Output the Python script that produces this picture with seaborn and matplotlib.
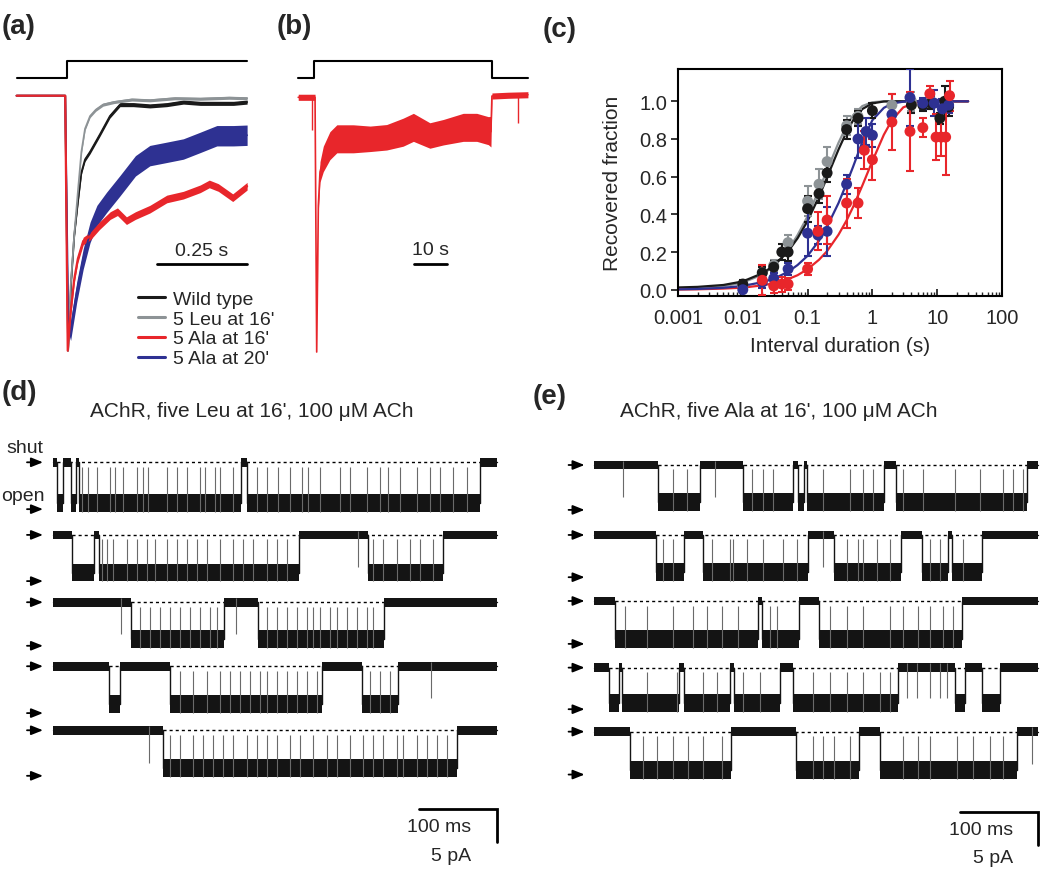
import numpy as np
import pandas as pd
import matplotlib
matplotlib.use("Agg")
import matplotlib.pyplot as plt
import seaborn as sns
from matplotlib.ticker import FixedLocator, FixedFormatter, FormatStrFormatter, LogLocator, NullFormatter

# ------------------------------------------------------------------ data
# (a) normalised macroscopic currents, time in s
a_black_t = [-0.14, -0.005, 0.003, 0.012, 0.02, 0.03, 0.04, 0.05, 0.064, 0.08, 0.092, 0.119, 0.147, 0.184, 0.23, 0.277, 0.323, 0.37, 0.416, 0.462, 0.5]
a_black_v = [0, 0, -1.0, -0.72, -0.55, -0.42, -0.3, -0.25, -0.22, -0.18, -0.15, -0.08, -0.035, -0.035, -0.04, -0.035, -0.025, -0.03, -0.03, -0.03, -0.025]
a_gray_t = [-0.14, -0.005, 0.003, 0.01, 0.02, 0.03, 0.04, 0.05, 0.064, 0.08, 0.1, 0.13, 0.18, 0.23, 0.3, 0.37, 0.45, 0.5]
a_gray_v = [0, 0, -1.0, -0.75, -0.55, -0.38, -0.22, -0.13, -0.08, -0.055, -0.035, -0.025, -0.015, -0.018, -0.01, -0.012, -0.008, -0.01]
a_red_t = [-0.14, -0.005, 0.002, 0.01, 0.02, 0.03, 0.045, 0.065, 0.09, 0.12, 0.14, 0.165, 0.19, 0.23, 0.277, 0.323, 0.37, 0.395, 0.42, 0.46, 0.5]
a_red_v = [0, 0, -1.0, -0.85, -0.72, -0.64, -0.57, -0.55, -0.51, -0.47, -0.455, -0.49, -0.47, -0.445, -0.405, -0.39, -0.365, -0.346, -0.36, -0.40, -0.355]
a_blue_t = [-0.14, -0.005, 0.004, 0.01, 0.027, 0.045, 0.064, 0.083, 0.11, 0.147, 0.19, 0.23, 0.277, 0.323, 0.37, 0.416, 0.462, 0.5]
a_blue_v = [0, 0, -0.93, -0.92, -0.77, -0.64, -0.536, -0.47, -0.418, -0.353, -0.275, -0.235, -0.222, -0.209, -0.183, -0.157, -0.157, -0.155]
a_noise = {"black": 0.008, "gray": 0.006, "red": 0.015, "blue": 0.04}
a_labels = ["Wild type", "5 Leu at 16'", "5 Ala at 16'", "5 Ala at 20'"]
a_stim_t = [-0.14, 0.0, 0.0, 0.5]
a_stim_v = [0, 0, 1, 1]

# (b) long application, time in s
b_t = [-5.6, -3.0, -1.3, -0.5, 0.0, 0.5, 1.0, 2.0, 4.0, 6.1, 11.1, 16.2, 21.2, 26.2, 29.3, 34.3, 38.4, 44.4, 48.5, 52.0, 52.8, 53.1, 58.0, 64.0]
b_v = [0, 0, 0, 0, -1.0, -0.425, -0.293, -0.242, -0.19, -0.163, -0.163, -0.163, -0.157, -0.137, -0.118, -0.15, -0.137, -0.118, -0.118, -0.131, -0.135, 0.005, 0.008, 0.01]
b_noise = [0.012, 0.012, 0.012, 0.012, 0, 0.02, 0.04, 0.05, 0.055, 0.055, 0.055, 0.05, 0.05, 0.055, 0.055, 0.05, 0.05, 0.055, 0.055, 0.055, 0.06, 0.012, 0.012, 0.012]
b_spike_t = [-1.3, 61.1]
b_spike_v = [-0.13, -0.1]
b_stim_t = [-5.6, -0.7, -0.7, 53.0, 53.0, 64.0]
b_stim_v = [0, 0, 1, 1, 0, 0]

# (c) recovery from desensitisation
c_x_ticks = [0.001, 0.01, 0.1, 1, 10, 100]
c_x_ticklabels = ["0.001", "0.01", "0.1", "1", "10", "100"]
c_y_ticks = [0.0, 0.2, 0.4, 0.6, 0.8, 1.0]
wt_x = [0.01, 0.02, 0.03, 0.04, 0.05, 0.1, 0.15, 0.2, 0.4, 0.6, 1.0, 4.0, 6.0, 8.0, 11.0, 13.0, 15.0]
wt_y = [0.03, 0.09, 0.12, 0.20, 0.20, 0.43, 0.51, 0.62, 0.85, 0.91, 0.95, 0.98, 0.98, 0.99, 0.91, 1.00, 0.97]
wt_e = [0.02, 0.03, 0.03, 0.04, 0.05, 0.07, 0.05, 0.05, 0.05, 0.04, 0.04, 0.04, 0.03, 0.03, 0.03, 0.08, 0.05]
leu_x = [0.01, 0.02, 0.03, 0.05, 0.1, 0.15, 0.2, 0.4, 0.6, 2.0, 4.0, 8.0, 15.0]
leu_y = [0.02, 0.09, 0.13, 0.25, 0.47, 0.56, 0.68, 0.87, 0.92, 0.98, 1.00, 1.00, 0.98]
leu_e = [0.02, 0.03, 0.03, 0.04, 0.08, 0.08, 0.08, 0.05, 0.04, 0.06, 0.05, 0.04, 0.04]
ala20_x = [0.01, 0.02, 0.03, 0.05, 0.1, 0.145, 0.2, 0.4, 0.6, 0.8, 1.0, 2.0, 3.8, 6.0, 9.0, 12.0, 15.0]
ala20_y = [0.0, 0.04, 0.06, 0.11, 0.30, 0.29, 0.31, 0.56, 0.80, 0.84, 0.82, 0.93, 1.02, 0.99, 0.99, 0.96, 0.98]
ala20_e = [0.01, 0.03, 0.03, 0.03, 0.12, 0.05, 0.13, 0.05, 0.10, 0.07, 0.06, 0.04, 0.15, 0.03, 0.07, 0.05, 0.04]
ala16_x = [0.02, 0.03, 0.04, 0.05, 0.1, 0.145, 0.2, 0.4, 0.6, 0.75, 1.0, 2.0, 3.8, 6.0, 7.7, 9.6, 11.5, 13.5, 15.5]
ala16_y = [0.05, 0.02, 0.03, 0.03, 0.11, 0.31, 0.37, 0.46, 0.46, 0.74, 0.69, 0.89, 0.84, 0.86, 1.04, 0.81, 0.81, 0.81, 1.03]
ala16_e = [0.08, 0.04, 0.04, 0.03, 0.03, 0.10, 0.13, 0.13, 0.08, 0.10, 0.11, 0.15, 0.21, 0.05, 0.04, 0.12, 0.10, 0.20, 0.08]
fit_x = [0.001, 0.002, 0.005, 0.01, 0.02, 0.03, 0.05, 0.07, 0.1, 0.15, 0.2, 0.3, 0.4, 0.5, 0.7, 1, 1.5, 2, 3, 5, 10, 30]
fit_wt = [0.012, 0.015, 0.025, 0.044, 0.087, 0.127, 0.203, 0.273, 0.365, 0.494, 0.597, 0.744, 0.838, 0.897, 0.959, 0.989, 0.999, 1.0, 1.0, 1.0, 1.0, 1.0]
fit_leu = [0.004, 0.007, 0.018, 0.038, 0.08, 0.125, 0.21, 0.29, 0.39, 0.53, 0.635, 0.78, 0.87, 0.925, 0.975, 0.995, 1.0, 1.0, 1.0, 1.0, 1.0, 1.0]
fit_ala20 = [0.002, 0.004, 0.01, 0.02, 0.04, 0.058, 0.095, 0.131, 0.18, 0.26, 0.335, 0.46, 0.565, 0.65, 0.785, 0.9, 0.965, 0.988, 0.998, 1.0, 1.0, 1.0]
fit_ala16 = [0.001, 0.002, 0.006, 0.011, 0.023, 0.034, 0.056, 0.077, 0.109, 0.159, 0.205, 0.292, 0.368, 0.437, 0.553, 0.683, 0.822, 0.9, 0.968, 0.997, 1.0, 1.0]

# (d) single-channel record, five Leu at 16' (times in ms, currents in pA)
d_offset = [0, -11.0, -21.2, -30.9, -40.6]
d_amp = [6.2, 5.7, 5.6, 5.7, 5.75]
d_arrow = [7.1, 7.0, 6.6, 7.1, 6.9]
d_bounds = [
    [0, 6, 13.6, 23.0, 29.9, 33.3, 241.0, 248.7, 547.9, 569.3],
    [0, 24.3, 53.0, 59.4, 315.8, 403.9, 500.9, 569.3],
    [0, 100.0, 219.7, 262.8, 424.8, 569.3],
    [0, 72.6, 86.3, 150.4, 344.9, 397.0, 443.2, 569.3],
    [0, 141.9, 518.0, 569.3],
]
d_flick = [
    [37.2, 45.7, 56.4, 73.5, 79.9, 90.6, 107.7, 116.2, 122.6, 146.1, 158.9, 171.8, 188.9, 195.3, 208.1, 214.5, 231.6, 261.5, 274.4, 289.3, 304.3, 319.3, 327.8, 342.7, 368.4, 381.2, 402.6, 419.7, 430.4, 445.3, 466.7, 483.8, 496.6, 513.7, 530.8],
    [62.8, 69.2, 77.8, 94.9, 107.7, 120.5, 131.2, 146.1, 158.9, 171.8, 184.6, 197.4, 214.5, 231.6, 244.4, 257.3, 274.4, 287.2, 300.0, 411.1, 423.9, 441.0, 458.1, 470.9, 488.0],
    [111.9, 124.8, 137.6, 150.4, 163.2, 176.0, 188.9, 201.7, 210.2, 274.4, 287.2, 300.0, 312.8, 325.6, 334.2, 342.7, 355.6, 364.1, 376.9, 389.8, 402.6, 411.1],
    [163.2, 180.3, 197.4, 214.5, 227.3, 240.2, 253.0, 265.8, 274.4, 287.2, 300.0, 312.8, 325.6, 338.5, 406.9, 419.7, 432.5],
    [150.4, 163.2, 180.3, 193.2, 206.0, 218.8, 231.6, 248.7, 261.5, 274.4, 287.2, 304.3, 317.1, 334.2, 351.3, 364.1, 381.2, 398.3, 411.1, 423.9, 441.0, 449.6, 466.7, 479.5, 492.3, 505.2],
]
d_brief = [[], [391.9], [87.6, 235.0], [484.6], [123.5]]

# (e) single-channel record, five Ala at 16'
e_offset = [0, -10.6, -20.6, -30.7, -40.4]
e_amp = [5.65, 5.65, 5.8, 5.4, 5.8]
e_arrow = [6.8, 6.4, 6.5, 6.3, 6.5]
e_bounds = [
    [0, 81.3, 135.5, 191.1, 255.2, 260.8, 268.9, 272.3, 371.5, 386.8, 555.2, 569.3],
    [0, 79.1, 115.0, 139.0, 274.4, 307.3, 393.3, 419.8, 453.9, 458.2, 496.7, 569.3],
    [0, 26.5, 210.3, 214.6, 262.9, 288.5, 471.0, 569.3],
    [0, 18.9, 32.1, 35.1, 108.6, 115.0, 174.0, 179.1, 238.1, 255.2, 389.8, 462.5, 475.3, 496.7, 520.2, 569.3],
    [0, 45.8, 174.9, 258.2, 339.8, 366.3, 542.4, 569.3],
]
e_flick = [
    [101.3, 118.4, 201.8, 216.7, 229.6, 293.7, 327.9, 345.0, 357.8, 396.2, 421.9, 462.5, 494.6, 524.5, 537.3, 550.1],
    [88.5, 101.3, 150.5, 174.0, 178.3, 195.4, 216.7, 242.4, 259.5, 323.6, 338.5, 345.0, 362.1, 379.2, 430.4, 443.3, 473.2],
    [39.4, 67.2, 101.3, 127.0, 144.1, 163.3, 184.7, 225.3, 233.8, 302.2, 323.6, 345.0, 379.2, 396.2, 415.5, 430.4, 447.5, 460.4],
    [67.2, 105.6, 139.8, 156.9, 191.1, 212.5, 280.8, 302.2, 323.6, 345.0, 366.3, 379.2],
    [62.9, 80.0, 101.3, 120.6, 139.8, 163.3, 280.8, 293.7, 307.3, 327.9, 396.2, 415.5, 430.4, 464.6, 486.0, 507.4, 524.5],
]
e_brief = [[37.2, 154.8], [293.7], [], [400.5, 413.4, 430.4, 443.3, 451.9], [560.8]]

SCALE_A_S = 0.25
SCALE_B_S = 10
SCALE_T_MS = 100
SCALE_I_PA = 5

# ------------------------------------------------------------------ style
sns.set_theme(style="white")
plt.rcParams["font.family"] = ["Liberation Sans", "DejaVu Sans"]
plt.rcParams["axes.edgecolor"] = "black"

BLACK = "#1a1a1a"
GRAY = "#8d9396"
RED = "#e8262b"
BLUE = "#2e3192"
TRACE = "#141414"
FLICK = "#6a6a6a"

W, H = 1050, 870
fig = plt.figure(figsize=(W / 100, H / 100), dpi=100)


def ax_px(x0, y0, x1, y1):
    return fig.add_axes([x0 / W, 1 - y1 / H, (x1 - x0) / W, (y1 - y0) / H])


def blank(ax):
    ax.set_axis_off()


# ------------------------------------------------------------------ (a)
ax_as = ax_px(15, 55, 250, 85)
ax_a = ax_px(15, 85, 250, 362)
for a in (ax_as, ax_a):
    a.set_xlim(-0.1444, 0.508)
    blank(a)
ax_as.set_ylim(-0.371, 1.394)
ax_a.set_ylim(-1.0404, 0.0459)
ax_as.plot(a_stim_t, a_stim_v, color="black", lw=1.5)

handles = {}
for key, t, v, col, lw in [("black", a_black_t, a_black_v, BLACK, 1.3),
                           ("gray", a_gray_t, a_gray_v, GRAY, 1.3),
                           ("blue", a_blue_t, a_blue_v, BLUE, 1.3),
                           ("red", a_red_t, a_red_v, RED, 1.6)]:
    t = np.asarray(t)
    v = np.asarray(v)
    hw = np.where(t >= 0.01, a_noise[key], 0.0)
    ax_a.fill_between(t, v - hw, v + hw, color=col, lw=0)
    sns.lineplot(x=t, y=v, color=col, lw=lw, ax=ax_a, estimator=None, sort=False)
    handles[key] = ax_a.lines[-1]

t_end = a_black_t[-1]
ax_a.plot([t_end - SCALE_A_S, t_end], [-0.66, -0.66], color="black", lw=2)
ax_a.text(t_end - SCALE_A_S / 2, -0.607, f"{SCALE_A_S} s", ha="center", va="center", fontsize=14)
leg = ax_a.legend([handles["black"], handles["gray"], handles["red"], handles["blue"]], a_labels,
                  loc="upper left", bbox_to_anchor=(138 / W, 1 - 291 / H), bbox_transform=fig.transFigure,
                  frameon=False, fontsize=14, handlelength=1.4, handletextpad=0.4,
                  labelspacing=0.12, borderpad=0, borderaxespad=0)
for line in leg.get_lines():
    line.set_linewidth(2.2)

# ------------------------------------------------------------------ (b)
ax_bs = ax_px(290, 55, 535, 85)
ax_b = ax_px(290, 85, 535, 362)
for a in (ax_bs, ax_b):
    a.set_xlim(-8.09, 66.15)
    blank(a)
ax_bs.set_ylim(-0.371, 1.394)
ax_b.set_ylim(-1.0353, 0.0522)
ax_bs.plot(b_stim_t, b_stim_v, color="black", lw=1.5)
bt = np.asarray(b_t)
bv = np.asarray(b_v)
bn = np.asarray(b_noise)
ax_b.fill_between(bt, bv - bn, bv + bn, color=RED, lw=0)
sns.lineplot(x=bt, y=bv, color=RED, lw=1.2, ax=ax_b, estimator=None, sort=False)
ax_b.vlines(b_spike_t, 0, b_spike_v, color=RED, lw=1.0)
ax_b.plot([29.5, 29.5 + SCALE_B_S], [-0.654, -0.654], color="black", lw=2)
ax_b.text(29.5 + SCALE_B_S / 2, -0.598, f"{SCALE_B_S} s", ha="center", va="center", fontsize=14)

# ------------------------------------------------------------------ (c)
ax_c = ax_px(678, 70, 1002, 297)
ax_c.set_xscale("log")
ax_c.set_xlim(0.001, 100)
ax_c.set_ylim(-0.0334, 1.1714)
for fy, col in [(fit_leu, GRAY), (fit_wt, BLACK), (fit_ala16, RED), (fit_ala20, BLUE)]:
    sns.lineplot(x=fit_x, y=fy, color=col, lw=1.6, ax=ax_c, estimator=None, sort=False, zorder=2)
for x, y, e, col in [(leu_x, leu_y, leu_e, GRAY), (wt_x, wt_y, wt_e, BLACK),
                     (ala20_x, ala20_y, ala20_e, BLUE), (ala16_x, ala16_y, ala16_e, RED)]:
    ax_c.errorbar(x, y, yerr=e, fmt="none", ecolor=col, elinewidth=1.5, capsize=3.2, capthick=1.5, zorder=3)
    sns.scatterplot(x=x, y=y, color=col, s=62, edgecolor="none", ax=ax_c, zorder=4, legend=False)
ax_c.xaxis.set_major_locator(FixedLocator(c_x_ticks))
ax_c.xaxis.set_major_formatter(FixedFormatter(c_x_ticklabels))
ax_c.xaxis.set_minor_locator(LogLocator(base=10, subs=np.arange(2, 10)))
ax_c.xaxis.set_minor_formatter(NullFormatter())
ax_c.yaxis.set_major_locator(FixedLocator(c_y_ticks))
ax_c.yaxis.set_major_formatter(FormatStrFormatter("%.1f"))
ax_c.tick_params(axis="x", which="major", direction="in", length=5, width=1.3, labelsize=14.5, pad=9, bottom=True)
ax_c.tick_params(axis="x", which="minor", direction="in", length=3, width=1.0, bottom=True)
ax_c.tick_params(axis="y", which="major", direction="out", length=5, width=1.3, labelsize=14.5, pad=3, left=True)
for s in ax_c.spines.values():
    s.set_linewidth(1.5)
    s.set_color("black")
ax_c.set_xlabel("Interval duration (s)", fontsize=15, labelpad=6)
ax_c.set_ylabel("Recovered fraction", fontsize=15, labelpad=12)

# ------------------------------------------------------------------ (d), (e)
HW_OPEN, HW_SHUT = 1.35, 0.65


def draw_record(ax, bounds, offset, amp, flick, brief):
    b = np.asarray(bounds, float)
    n = len(b) - 1
    state = np.arange(n) % 2
    state = np.append(state, state[-1])
    level = offset - amp * state
    hw = np.where(state == 1, HW_OPEN, HW_SHUT)
    ax.hlines(offset, b[1], b[-2], colors="black", linestyles=(0, (2.2, 2.2)), lw=1.0, zorder=1)
    ax.fill_between(b, level - hw, level + hw, step="post", color=TRACE, lw=0, zorder=2)
    ax.step(b, level, where="post", color=TRACE, lw=1.0, zorder=2)
    if flick:
        ax.vlines(flick, offset - amp - HW_OPEN, offset - 0.12 * amp, colors=FLICK, lw=0.8, zorder=3)
    if brief:
        ax.vlines(brief, offset + HW_SHUT, offset - 0.85 * amp, colors=FLICK, lw=0.8, zorder=3)


def draw_panel(ax, offsets, amps, arrows, bounds, flicks, briefs, xlim, ylim, labels):
    ax.set_xlim(*xlim)
    ax.set_ylim(*ylim)
    blank(ax)
    for off, amp, arr, bd, fl, br in zip(offsets, amps, arrows, bounds, flicks, briefs):
        draw_record(ax, bd, off, amp, fl, br)
        for lev in (off, off - arr):
            ax.annotate("", xy=(-12.5, lev), xytext=(-33, lev),
                        arrowprops=dict(arrowstyle="-|>,head_length=0.5,head_width=0.2",
                                        color="black", lw=1.3, shrinkA=0, shrinkB=0, mutation_scale=14))
    if labels:
        ax.text(-35.5, offsets[0] + 2.2, "shut", ha="center", va="center", fontsize=14)
        ax.text(-66.0, offsets[0] - 5.1, "open", ha="left", va="center", fontsize=14)
    end = bounds[0][-1]
    ax.plot([end - SCALE_T_MS, end, end], [-52.6, -52.6, -52.6 - SCALE_I_PA], color="black", lw=2,
            solid_joinstyle="miter")
    ax.text(end - 74, -55.2, f"{SCALE_T_MS} ms", ha="center", va="center", fontsize=14)
    ax.text(end - 58, -59.5, f"{SCALE_I_PA} pA", ha="center", va="center", fontsize=14)


ax_d = ax_px(0, 440, 525, 870)
draw_panel(ax_d, d_offset, d_amp, d_arrow, d_bounds, d_flick, d_brief,
           (-67.6, 605.5), (-61.62, 3.53), True)
ax_e = ax_px(525, 440, 1050, 870)
draw_panel(ax_e, e_offset, e_amp, e_arrow, e_bounds, e_flick, e_brief,
           (-88.85, 584.2), (-61.21, 3.94), False)

# ------------------------------------------------------------------ labels
for lab, x, y in [("(a)", 2, 27), ("(b)", 277, 27), ("(c)", 543, 30), ("(d)", 2, 393), ("(e)", 533, 397)]:
    fig.text(x / W, 1 - y / H, lab, ha="left", va="center", fontsize=20, fontweight="bold")
fig.text(252 / W, 1 - 412 / H, "AChR, five Leu at 16', 100 \u03bcM ACh", ha="center", va="center", fontsize=15)
fig.text(779 / W, 1 - 412 / H, "AChR, five Ala at 16', 100 \u03bcM ACh", ha="center", va="center", fontsize=15)

fig.savefig("out.png", dpi=100)
